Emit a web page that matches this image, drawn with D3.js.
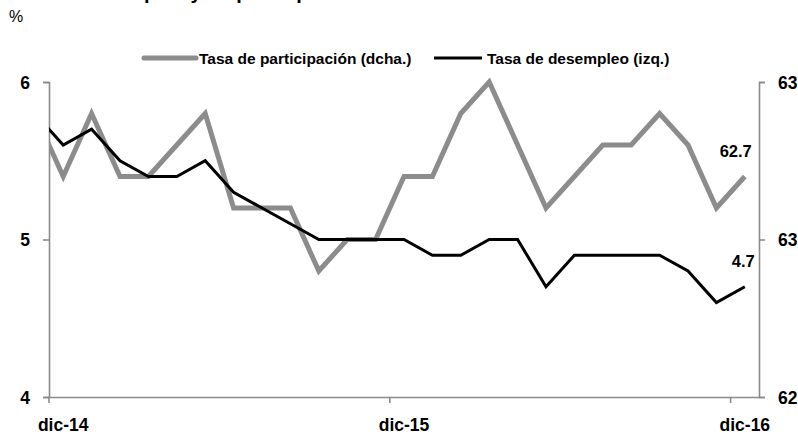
<!DOCTYPE html>
<html>
  <head>
    <meta charset="utf-8">
    <title>Tasa de desempleo y de participación</title>
    <style>
      body { margin: 0; background-color: #fff; }
      svg { display: block; font-family: "Liberation Sans", Arial, sans-serif; }
      .lbl { font-weight: bold; fill: #000; }
    </style>
    <script src="https://cdnjs.cloudflare.com/ajax/libs/d3/7.8.5/d3.min.js"></script>
  </head>
  <body>
    <svg id="chart" width="798" height="434"></svg>
    <script>
      // nov-14 sits left of the plot and is clipped, like the original
      var months = ["nov-14", "dic-14", "ene-15", "feb-15", "mar-15", "abr-15", "may-15", "jun-15", "jul-15",
                    "ago-15", "sep-15", "oct-15", "nov-15", "dic-15", "ene-16", "feb-16", "mar-16", "abr-16",
                    "may-16", "jun-16", "jul-16", "ago-16", "sep-16", "oct-16", "nov-16", "dic-16"];
      var desempleo = [5.8, 5.6, 5.7, 5.5, 5.4, 5.4, 5.5, 5.3, 5.2, 5.1, 5.0, 5.0, 5.0,
                       5.0, 4.9, 4.9, 5.0, 5.0, 4.7, 4.9, 4.9, 4.9, 4.9, 4.8, 4.6, 4.7];
      var participacion = [62.9, 62.7, 62.9, 62.7, 62.7, 62.8, 62.9, 62.6, 62.6, 62.6, 62.4, 62.5, 62.5,
                           62.7, 62.7, 62.9, 63.0, 62.8, 62.6, 62.7, 62.8, 62.8, 62.9, 62.8, 62.6, 62.7];
      var xTicks = ["dic-14", "dic-15", "dic-16"];
      var leftTicks = [4, 5, 6];
      var rightTicks = [62, 62.5, 63];

      var svg = d3.select("#chart");
      var L = 49, R = 759, T = 82, B = 397;
      var step = (R - L) / (months.length - 1);
      var axisCol = "#8a8a8a";

      var x = d3.scaleBand().domain(months).range([L - step, R]).padding(0);
      var cx = function(m) { return x(m) + x.bandwidth() / 2; };
      var yL = d3.scaleLinear().domain([4, 6]).range([B, T]);
      var yR = d3.scaleLinear().domain([62, 63]).range([B, T]);

      // title, mostly above the visible area (as in the original crop)
      svg.append("text").attr("x", 2).attr("y", -1)
        .attr("font-size", 20).attr("font-weight", "bold")
        .text("Tasa de desempleo y de participación");
      svg.append("text").attr("x", 9).attr("y", 22).attr("font-size", 16).text("%");

      // legend
      var leg = svg.append("g").attr("class", "lbl").attr("font-size", 15.5).attr("font-weight", "bold");
      leg.append("line").attr("x1", 144).attr("x2", 196).attr("y1", 58).attr("y2", 58)
        .attr("stroke", "#8c8c8c").attr("stroke-width", 5).attr("stroke-linecap", "round");
      leg.append("text").attr("x", 199).attr("y", 64).text("Tasa de participación (dcha.)");
      leg.append("line").attr("x1", 434).attr("x2", 482).attr("y1", 58).attr("y2", 58)
        .attr("stroke", "#000").attr("stroke-width", 3);
      leg.append("text").attr("x", 487).attr("y", 64).text("Tasa de desempleo (izq.)");

      // axes
      var gl = svg.append("g").attr("transform", "translate(" + L + ",0)")
        .call(d3.axisLeft(yL).tickValues(leftTicks).tickSize(6).tickFormat(d3.format("d")));
      var gr = svg.append("g").attr("transform", "translate(" + R + ",0)")
        .call(d3.axisRight(yR).tickValues(rightTicks).tickSize(6).tickFormat(d3.format(".0f")));
      var gb = svg.append("g").attr("transform", "translate(0," + B + ")")
        .call(d3.axisBottom(x).tickValues(xTicks).tickSize(6).tickFormat(function(d) { return d; }));
      gb.select(".domain").attr("d", "M" + L + ",0.5H" + R);
      gb.selectAll(".tick").attr("transform", function(d) { return "translate(" + x(d) + ",0)"; });
      gb.selectAll(".tick text").attr("x", x.bandwidth() / 2).attr("dy", null).attr("y", 34);

      [gl, gr, gb].forEach(function(g) {
        g.attr("font-family", "Liberation Sans, Arial, sans-serif").attr("font-size", 17.5);
        g.selectAll(".domain, .tick line").attr("stroke", axisCol).attr("stroke-width", 1.6);
        g.selectAll(".tick text").attr("font-weight", "bold").attr("font-size", 17.5).attr("fill", "#000");
      });
      gl.selectAll(".tick text").attr("x", -19).attr("dy", "0.36em");
      gr.selectAll(".tick text").attr("x", 19).attr("dy", "0.36em");

      // lines
      svg.append("clipPath").attr("id", "plot")
        .append("rect").attr("x", L).attr("y", 0).attr("width", R - L).attr("height", 434);

      var idx = d3.range(months.length);
      var lineP = d3.line().x(function(i) { return cx(months[i]); }).y(function(i) { return yR(participacion[i]); });
      var lineD = d3.line().x(function(i) { return cx(months[i]); }).y(function(i) { return yL(desempleo[i]); });

      var plot = svg.append("g").attr("clip-path", "url(#plot)");
      plot.append("path").datum(idx).attr("d", lineP)
        .attr("fill", "none").attr("stroke", "#8c8c8c").attr("stroke-width", 5);
      plot.append("path").datum(idx).attr("d", lineD)
        .attr("fill", "none").attr("stroke", "#000").attr("stroke-width", 3);

      // end labels
      var last = months.length - 1;
      svg.append("text").attr("class", "lbl").attr("font-size", 16.5).attr("text-anchor", "end")
        .attr("x", cx(months[last]) + 7).attr("y", yR(participacion[last]) - 20)
        .text(d3.format(".1f")(participacion[last]));
      svg.append("text").attr("class", "lbl").attr("font-size", 16.5).attr("text-anchor", "end")
        .attr("x", cx(months[last]) + 10).attr("y", yL(desempleo[last]) - 20)
        .text(d3.format(".1f")(desempleo[last]));
    </script>
  </body>
</html>
